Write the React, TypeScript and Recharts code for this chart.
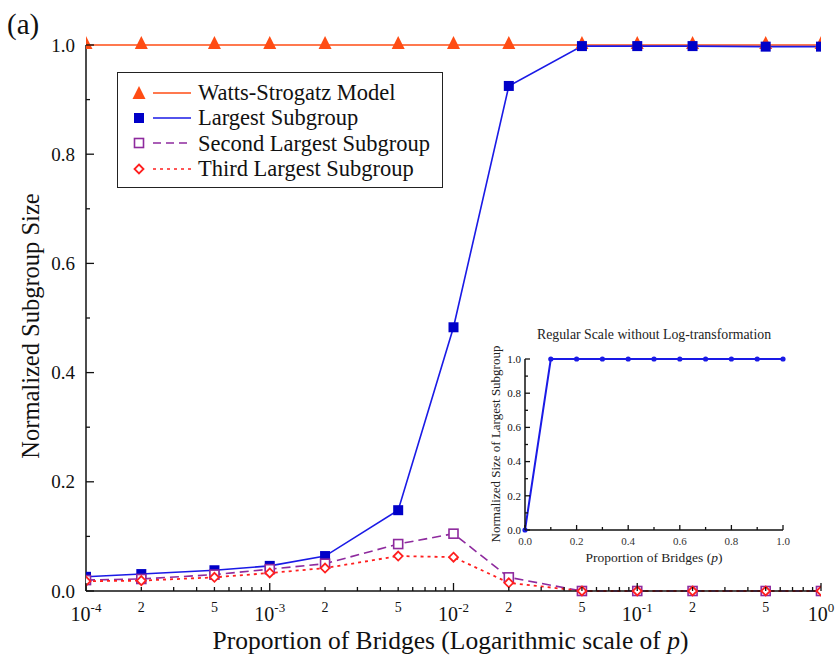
import { Legend, Line, LineChart, XAxis, YAxis } from 'recharts'

const FONT = '"Liberation Serif", "DejaVu Serif", serif'

// main panel: subgroup sizes against p (log scale)
const pValues = [1e-4, 2e-4, 5e-4, 1e-3, 2e-3, 5e-3, 1e-2, 2e-2, 5e-2, 1e-1, 2e-1, 5e-1, 1]
const wattsStrogatz = [1, 1, 1, 1, 1, 1, 1, 1, 1, 1, 1, 1, 1]
const largestSubgroup = [0.026, 0.031, 0.038, 0.046, 0.064, 0.148, 0.483, 0.925, 0.998, 0.998, 0.998, 0.997, 0.997]
const secondLargest = [0.02, 0.022, 0.03, 0.04, 0.05, 0.086, 0.105, 0.025, 0, 0, 0, 0, 0]
const thirdLargest = [0.018, 0.019, 0.025, 0.033, 0.042, 0.064, 0.062, 0.015, 0, 0, 0, 0, 0]

// inset: regular scale
const insetP = [0, 0.1, 0.2, 0.3, 0.4, 0.5, 0.6, 0.7, 0.8, 0.9, 1.0]
const insetLargest = [0, 1, 1, 1, 1, 1, 1, 1, 1, 1, 1]

const yTicks = [0, 0.1, 0.2, 0.3, 0.4, 0.5, 0.6, 0.7, 0.8, 0.9, 1.0]
const insetTicks = [0, 0.1, 0.2, 0.3, 0.4, 0.5, 0.6, 0.7, 0.8, 0.9, 1.0]

const logTicks: number[] = []
for (let e = -4; e < 0; e++) for (let m = 1; m < 10; m++) logTicks.push(m * 10 ** e)
logTicks.push(1)

const data = pValues.map((p, i) => ({
  p,
  ws: wattsStrogatz[i],
  largest: largestSubgroup[i],
  second: secondLargest[i],
  third: thirdLargest[i],
}))
const insetData = insetP.map((p, i) => ({ p, largest: insetLargest[i] }))

const ORANGE = '#ff4c14'
const BLUE = '#1a1ae6'
const BLUE_MARK = '#0000c8'
const PURPLE = '#8e2a9e'
const RED = '#ff1f1f'
const AXIS = '#111'

function splitLog(v: number) {
  const e = Math.floor(Math.log10(v) + 1e-9)
  const m = Math.round(v / 10 ** e)
  return { e, m }
}

function LogTick({ x, y, payload, side }: any) {
  const { e, m } = splitLog(payload.value)
  const len = m === 1 ? 8 : 4
  const dir = side === 'top' ? 1 : -1
  return (
    <g>
      <line x1={x} x2={x} y1={y} y2={y + dir * len} stroke={AXIS} strokeWidth={1.3} />
      {side === 'bottom' && m === 1 && (
        <text x={x} y={y + 30} textAnchor="middle" fontSize={20} fontFamily={FONT} fill="#111">
          10<tspan dy={-9} fontSize={13}>{e}</tspan>
        </text>
      )}
      {side === 'bottom' && (m === 2 || m === 5) && (
        <text x={x} y={y + 21} textAnchor="middle" fontSize={14} fontFamily={FONT} fill="#111">
          {m}
        </text>
      )}
    </g>
  )
}

function ValueTick({ x, y, payload, index, side, major, minor, fontSize, labelGap }: any) {
  const isMajor = index % 2 === 0
  const len = isMajor ? major : minor
  const dir = side === 'left' ? 1 : -1
  return (
    <g>
      <line x1={x} x2={x + dir * len} y1={y} y2={y} stroke={AXIS} strokeWidth={1.3} />
      {side === 'left' && isMajor && (
        <text x={x - labelGap} y={y} dy="0.35em" textAnchor="end" fontSize={fontSize} fontFamily={FONT} fill="#111">
          {Number(payload.value).toFixed(1)}
        </text>
      )}
    </g>
  )
}

function InsetXTick({ x, y, payload, index, side }: any) {
  const isMajor = index % 2 === 0
  const len = isMajor ? 5 : 3
  const dir = side === 'top' ? 1 : -1
  return (
    <g>
      <line x1={x} x2={x} y1={y} y2={y + dir * len} stroke={AXIS} strokeWidth={1.3} />
      {side === 'bottom' && isMajor && (
        <text x={x} y={y + 15} textAnchor="middle" fontSize={11} fontFamily={FONT} fill="#333">
          {Number(payload.value).toFixed(1)}
        </text>
      )}
    </g>
  )
}

function Triangle({ cx, cy }: any) {
  if (cx == null || cy == null) return null
  return <polygon points={`${cx},${cy - 9} ${cx - 6.5},${cy + 4} ${cx + 6.5},${cy + 4}`} fill={ORANGE} />
}
function FilledSquare({ cx, cy }: any) {
  if (cx == null || cy == null) return null
  return <rect x={cx - 5} y={cy - 5} width={10} height={10} fill={BLUE_MARK} />
}
function OpenSquare({ cx, cy }: any) {
  if (cx == null || cy == null) return null
  return <rect x={cx - 4.5} y={cy - 4.5} width={9} height={9} fill="#fff" stroke={PURPLE} strokeWidth={1.6} />
}
function Diamond({ cx, cy }: any) {
  if (cx == null || cy == null) return null
  return <polygon points={`${cx},${cy - 4.5} ${cx + 4.5},${cy} ${cx},${cy + 4.5} ${cx - 4.5},${cy}`} fill="#fff" stroke={RED} strokeWidth={1.8} />
}

const legendItems = [
  { name: 'Watts-Strogatz Model', color: ORANGE, dash: undefined, marker: 'tri' },
  { name: 'Largest Subgroup', color: BLUE, dash: undefined, marker: 'sq' },
  { name: 'Second Largest Subgroup', color: PURPLE, dash: '8 5', marker: 'osq' },
  { name: 'Third Largest Subgroup', color: RED, dash: '3 4', marker: 'dia' },
]

function LegendBox() {
  return (
    <div
      style={{
        border: '1.5px solid #222',
        background: '#fff',
        boxSizing: 'border-box',
        width: 326,
        height: 116,
        padding: '7px 0 0 0',
        fontFamily: FONT,
        fontSize: 22.5,
        color: '#111',
      }}
    >
      {legendItems.map((item) => (
        <div key={item.name} style={{ display: 'flex', alignItems: 'center', height: 25.3 }}>
          <svg width={80} height={20} style={{ flex: 'none' }}>
            {item.marker === 'tri' && <Triangle cx={21} cy={12} />}
            {item.marker === 'sq' && <FilledSquare cx={21} cy={10} />}
            {item.marker === 'osq' && <OpenSquare cx={21} cy={10} />}
            {item.marker === 'dia' && <Diamond cx={21} cy={10} />}
            <line x1={35} x2={73} y1={10} y2={10} stroke={item.color} strokeWidth={1.6} strokeDasharray={item.dash} />
          </svg>
          <span style={{ whiteSpace: 'nowrap', lineHeight: '25px' }}>{item.name}</span>
        </div>
      ))}
    </div>
  )
}

function XLabel({ viewBox }: any) {
  const cx = viewBox.x + viewBox.width / 2
  return (
    <text x={cx - 3} y={649} textAnchor="middle" fontSize={25.5} fontFamily={FONT} fill="#111">
      Proportion of Bridges (Logarithmic scale of <tspan fontStyle="italic">p</tspan>)
    </text>
  )
}

function YLabel({ viewBox }: any) {
  const cy = viewBox.y + viewBox.height / 2 + 8
  return (
    <text x={30} y={cy} transform={`rotate(-90 30 ${cy})`} dy="0.35em" textAnchor="middle" fontSize={24.5} fontFamily={FONT} fill="#111">
      Normalized Subgroup Size
    </text>
  )
}

function InsetXLabel() {
  return (
    <text x={184} y={247} textAnchor="middle" fontSize={13.5} fontFamily={FONT} fill="#222">
      Proportion of Bridges (<tspan fontStyle="italic">p</tspan>)
    </text>
  )
}

function InsetYLabel() {
  return (
    <text x={25} y={129} transform="rotate(-90 25 129)" dy="0.35em" textAnchor="middle" fontSize={13} fontFamily={FONT} fill="#222">
      Normalized Size of Largest Subgroup
    </text>
  )
}

function Inset() {
  return (
    <div style={{ position: 'absolute', left: 470, top: 315 }}>
      <LineChart width={330} height={260} data={insetData} margin={{ top: 44, right: 17, bottom: 0, left: 0 }}>
        <XAxis
          xAxisId="b"
          dataKey="p"
          type="number"
          domain={[0, 1]}
          ticks={insetTicks}
          interval={0}
          height={45}
          tickSize={0}
          tickMargin={0}
          axisLine={{ stroke: AXIS, strokeWidth: 1.5 }}
          tickLine={false}
          tick={<InsetXTick side="bottom" />}
          label={<InsetXLabel />}
        />
        <XAxis
          xAxisId="t"
          orientation="top"
          dataKey="p"
          type="number"
          domain={[0, 1]}
          ticks={insetTicks}
          interval={0}
          height={0}
          tickSize={0}
          tickMargin={0}
          axisLine={{ stroke: AXIS, strokeWidth: 1.5 }}
          tickLine={false}
          tick={<InsetXTick side="top" />}
        />
        <YAxis
          yAxisId="l"
          type="number"
          domain={[0, 1]}
          ticks={insetTicks}
          interval={0}
          width={55}
          tickSize={0}
          tickMargin={0}
          axisLine={{ stroke: AXIS, strokeWidth: 1.5 }}
          tickLine={false}
          tick={<ValueTick side="left" major={5} minor={3} fontSize={11} labelGap={4} />}
          label={<InsetYLabel />}
        />
        <YAxis
          yAxisId="r"
          orientation="right"
          type="number"
          domain={[0, 1]}
          ticks={insetTicks}
          interval={0}
          width={0}
          tickSize={0}
          tickMargin={0}
          axisLine={{ stroke: AXIS, strokeWidth: 1.5 }}
          tickLine={false}
          tick={<ValueTick side="right" major={5} minor={3} fontSize={11} labelGap={4} />}
        />
        <Line
          xAxisId="b"
          yAxisId="l"
          dataKey="largest"
          stroke={BLUE}
          strokeWidth={2}
          dot={{ r: 2.6, fill: BLUE, stroke: BLUE, strokeWidth: 0 }}
          isAnimationActive={false}
        />
        <text x={184} y={24} textAnchor="middle" fontSize={13.8} fontFamily={FONT} fill="#222">
          Regular Scale without Log-transformation
        </text>
      </LineChart>
    </div>
  )
}

export default function App() {
  return (
    <div style={{ position: 'absolute', left: 0, top: 0, width: 835, height: 666, background: '#fff' }}>
      <LineChart width={835} height={666} data={data} margin={{ top: 45, right: 14, bottom: 0, left: 0 }}>
        <XAxis
          xAxisId="b"
          dataKey="p"
          type="number"
          scale="log"
          domain={[1e-4, 1]}
          allowDataOverflow
          ticks={logTicks}
          interval={0}
          height={75}
          tickSize={0}
          tickMargin={0}
          axisLine={{ stroke: AXIS, strokeWidth: 1.5 }}
          tickLine={false}
          tick={<LogTick side="bottom" />}
          label={<XLabel />}
        />
        <XAxis
          xAxisId="t"
          orientation="top"
          dataKey="p"
          type="number"
          scale="log"
          domain={[1e-4, 1]}
          allowDataOverflow
          ticks={logTicks}
          interval={0}
          height={0}
          tickSize={0}
          tickMargin={0}
          axisLine={{ stroke: AXIS, strokeWidth: 1.5 }}
          tickLine={false}
          tick={<LogTick side="top" />}
        />
        <YAxis
          yAxisId="l"
          type="number"
          domain={[0, 1]}
          ticks={yTicks}
          interval={0}
          width={86}
          tickSize={0}
          tickMargin={0}
          axisLine={{ stroke: AXIS, strokeWidth: 1.5 }}
          tickLine={false}
          tick={<ValueTick side="left" major={8} minor={4} fontSize={19} labelGap={11} />}
          label={<YLabel />}
        />
        <YAxis
          yAxisId="r"
          orientation="right"
          type="number"
          domain={[0, 1]}
          ticks={yTicks}
          interval={0}
          width={0}
          tickSize={0}
          tickMargin={0}
          axisLine={{ stroke: AXIS, strokeWidth: 1.5 }}
          tickLine={false}
          tick={<ValueTick side="right" major={8} minor={4} fontSize={19} labelGap={11} />}
        />
        <Legend
          layout="vertical"
          align="center"
          verticalAlign="middle"
          content={<LegendBox />}
          wrapperStyle={{ position: 'absolute', left: 117, top: 72, width: 326, height: 116 }}
        />
        <Line xAxisId="b" yAxisId="l" dataKey="ws" name="Watts-Strogatz Model" stroke={ORANGE} strokeWidth={1.6} dot={<Triangle />} activeDot={false} isAnimationActive={false} />
        <Line xAxisId="b" yAxisId="l" dataKey="largest" name="Largest Subgroup" stroke={BLUE} strokeWidth={1.6} dot={<FilledSquare />} activeDot={false} isAnimationActive={false} />
        <Line xAxisId="b" yAxisId="l" dataKey="second" name="Second Largest Subgroup" stroke={PURPLE} strokeWidth={1.6} strokeDasharray="9 5" dot={<OpenSquare />} activeDot={false} isAnimationActive={false} />
        <Line xAxisId="b" yAxisId="l" dataKey="third" name="Third Largest Subgroup" stroke={RED} strokeWidth={1.8} strokeDasharray="3 4" dot={<Diamond />} activeDot={false} isAnimationActive={false} />
        <text x={7} y={34} fontSize={29} fontFamily={FONT} fill="#111">
          (a)
        </text>
      </LineChart>
      <Inset />
    </div>
  )
}
